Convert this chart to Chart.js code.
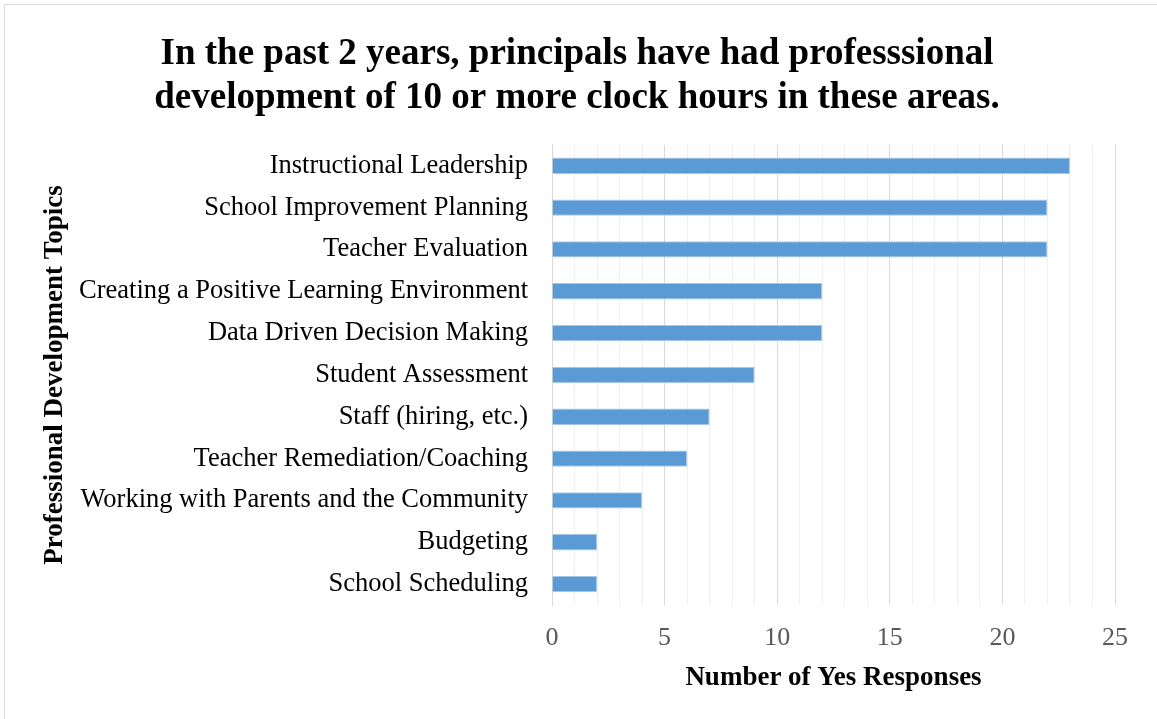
<!DOCTYPE html>
<html>
<head>
<meta charset="utf-8">
<script src="https://cdn.jsdelivr.net/npm/chart.js@4"></script>
<style>
  body { margin: 0; background: #ffffff; }
  .frame { position: absolute; left: 4px; top: 4px; width: 1170px; height: 730px; border: 1px solid #d9d9d9; }
  .chart-box { position: absolute; left: 0; top: 0; width: 1157px; height: 719px; }
</style>
</head>
<body>
<div class="frame"></div>
<div class="chart-box"><canvas id="pdChart"></canvas></div>
<script>
const topics = [
  'Instructional Leadership',
  'School Improvement Planning',
  'Teacher Evaluation',
  'Creating a Positive Learning Environment',
  'Data Driven Decision Making',
  'Student Assessment',
  'Staff (hiring, etc.)',
  'Teacher Remediation/Coaching',
  'Working with Parents and the Community',
  'Budgeting',
  'School Scheduling'
];
const yesResponses = [23, 22, 22, 12, 12, 9, 7, 6, 4, 2, 2];
const titleLines = [
  'In the past 2 years, principals have had professsional',
  'development of 10 or more clock hours in these areas.'
];

const serif = "'Liberation Serif', 'Times New Roman', serif";

new Chart(document.getElementById('pdChart'), {
  type: 'bar',
  data: {
    labels: topics,
    datasets: [{
      label: 'Yes Responses',
      data: yesResponses,
      backgroundColor: '#5b9bd5',
      borderColor: '#a8c8e8',
      borderWidth: 1,
      barPercentage: 0.39,
      categoryPercentage: 1
    }]
  },
  options: {
    indexAxis: 'y',
    responsive: true,
    maintainAspectRatio: false,
    animation: false,
    layout: { padding: { left: 39, right: 42, top: 22, bottom: 25 } },
    plugins: {
      legend: { display: false },
      tooltip: { enabled: false },
      title: {
        display: true,
        text: titleLines,
        color: '#000000',
        font: { family: serif, size: 37, weight: 'bold', lineHeight: 1.2 },
        padding: { top: 10, bottom: 24 }
      }
    },
    scales: {
      x: {
        min: 0,
        max: 25,
        afterFit: scale => { scale.height = 89; },
        ticks: {
          stepSize: 1,
          autoSkip: false,
          maxRotation: 0,
          color: '#595959',
          font: { family: serif, size: 26 },
          padding: 18,
          callback: v => (v % 5 === 0 ? v : '')
        },
        grid: {
          drawTicks: false,
          lineWidth: 1,
          color: ctx => (ctx.tick && ctx.tick.value % 5 === 0 ? '#d9d9d9' : '#efefef')
        },
        border: { display: false },
        title: {
          display: true,
          text: 'Number of Yes Responses',
          color: '#000000',
          font: { family: serif, size: 27, weight: 'bold' },
          padding: { top: 0, bottom: 0 }
        }
      },
      y: {
        afterFit: scale => { scale.width = 513; },
        ticks: {
          color: '#000000',
          font: { family: serif, size: 26.5 },
          padding: 24
        },
        grid: { display: false, drawTicks: false },
        border: { display: true, color: '#d9d9d9', width: 1 },
        title: {
          display: true,
          text: 'Professional Development Topics',
          color: '#000000',
          font: { family: serif, size: 27, weight: 'bold' },
          padding: { top: 0, bottom: 0 }
        }
      }
    }
  }
});
</script>
</body>
</html>
